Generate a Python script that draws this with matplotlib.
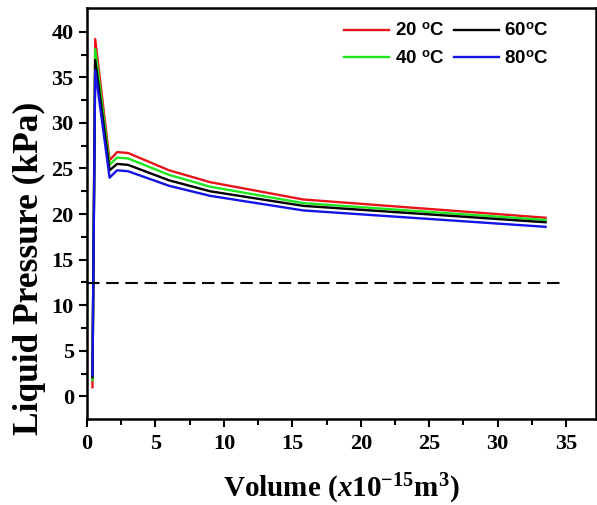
import numpy as np
import matplotlib.pyplot as plt

plt.rcParams['mathtext.fontset'] = 'custom'
plt.rcParams['mathtext.rm'] = 'Liberation Serif:bold'
plt.rcParams['mathtext.it'] = 'Liberation Serif:italic:bold'

# Volume (x1e-15 m^3) and liquid pressure (kPa)
vol = [0.40, 0.60, 1.65, 2.2, 3.0, 6.0, 9.0, 15.8, 33.5]
p20 = [1.0, 39.2, 25.9, 26.8, 26.7, 24.8, 23.5, 21.6, 19.6]
p40 = [1.8, 38.1, 25.4, 26.2, 26.1, 24.3, 23.0, 21.2, 19.35]
p60 = [2.1, 36.9, 24.8, 25.5, 25.4, 23.7, 22.5, 20.9, 19.1]
p80 = [2.3, 35.8, 24.0, 24.8, 24.7, 23.1, 22.0, 20.4, 18.6]
p_ref = 12.4

fig = plt.figure(figsize=(5.97, 5.05), dpi=100)
ax = fig.add_axes([0.1457, 0.170, 0.853, 0.814])

ax.plot(vol, p20, color='#e8141c', lw=1.7, label=r'20 $^{\mathregular{o}}$C')
ax.plot(vol, p40, color='#1ee61e', lw=1.7, label=r'40 $^{\mathregular{o}}$C')
ax.plot(vol, p60, color='black', lw=1.7, label=r'60$^{\mathregular{o}}$C')
ax.plot(vol, p80, color='#1414e6', lw=1.7, label=r'80$^{\mathregular{o}}$C')
ax.plot([0, 35], [p_ref, p_ref], 'k--', lw=1.5, dashes=(6, 3.2))

ax.set_xlim(0, 37.2)
ax.set_ylim(-2.5, 42.6)
ax.set_xticks(np.arange(0, 36, 5))
ax.set_xticks(np.arange(2.5, 37, 5), minor=True)
ax.set_yticks(np.arange(0, 41, 5))
ax.set_yticks(np.arange(2.5, 42, 5), minor=True)

tfont = dict(family='Liberation Serif', weight='bold')
for lab in ax.get_xticklabels() + ax.get_yticklabels():
    lab.set_fontproperties('Liberation Serif')
    lab.set_fontweight('bold')
    lab.set_fontsize(16)
ax.tick_params(which='major', direction='out', length=6, width=1.5, top=False, right=False)
ax.tick_params(which='minor', direction='out', length=4, width=1.5, top=False, right=False)
ax.tick_params(axis='x', pad=5)
for s in ax.spines.values():
    s.set_linewidth(1.8)

ax.set_xlabel(r'Volume ($\mathit{x}$10$^{\mathregular{-15}}$m$^{\mathregular{3}}$)',
              fontsize=21, **tfont)
ax.xaxis.set_label_coords(0.5, -0.127)
ax.set_ylabel('Liquid Pressure (kPa)', fontsize=25.5, **tfont)
ax.yaxis.set_label_coords(-0.08, 0.366)

leg = ax.legend(loc='upper right', ncol=2, frameon=False, handlelength=2.4,
                columnspacing=0.5, handletextpad=0.3, labelspacing=0.55,
                bbox_to_anchor=(0.94, 1.005),
                prop=dict(family='Liberation Sans', weight='bold', size=13.5))

fig.savefig('out.png', dpi=100)
